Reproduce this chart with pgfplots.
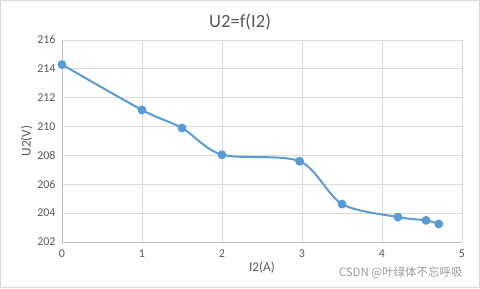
\documentclass[border=0pt]{standalone}
\usepackage{pgfplots}
\pgfplotsset{compat=1.18}
\usepackage{fontspec}
\setmainfont{Carlito}
\newfontfamily\cjk{Noto Sans CJK SC}
\definecolor{excelblue}{HTML}{5B9BD5}
\definecolor{txtgrey}{HTML}{595959}
\definecolor{gridgrey}{HTML}{D9D9D9}
\definecolor{axisgrey}{HTML}{BFBFBF}
\begin{document}
\begin{tikzpicture}[x=1bp,y=1bp]
\draw[draw=gridgrey,line width=0.75bp] (0.5,0.5) rectangle (479.5,287.5);
\useasboundingbox (0,0) rectangle (480,288);
\node[text=txtgrey,font=\fontsize{18.7}{22}\selectfont] at (240,266) {U2=f(I2)};
\node[text=black!40,font=\cjk\fontsize{11.5}{13}\selectfont,anchor=east] at (466,15) {CSDN @叶绿体不忘呼吸};
\begin{axis}[
  at={(62bp,46bp)}, anchor=south west,
  scale only axis, width=400bp, height=202bp,
  xmin=0, xmax=5, ymin=202, ymax=216,
  xtick={0,1,2,3,4,5}, ytick={202,204,...,216},
  axis x line*=bottom, axis y line*=left,
  grid=major,
  grid style={gridgrey, line width=0.75bp},
  axis line style={draw=axisgrey, line width=0.75bp, -},
  major tick length=0pt,
  tick label style={text=txtgrey, font=\fontsize{12}{14}\selectfont},
  /pgf/number format/assume math mode=true,
  xticklabel style={yshift=-4bp},
  yticklabel style={xshift=-3bp},
  xlabel={I2(A)}, ylabel={U2(V)},
  label style={text=txtgrey, font=\fontsize{13.3}{15}\selectfont},
  xlabel style={yshift=2bp},
  ylabel style={yshift=-2bp},
]
\addplot[color=excelblue, line width=2bp, smooth, mark=*, mark size=3.4bp, mark options={fill=excelblue, draw=excelblue}]
coordinates {
(0,214.3)
(1.0,211.15)
(1.5,209.9)
(2.0,208.05)
(2.97,207.6)
(3.5,204.63)
(4.2,203.73)
(4.55,203.5)
(4.71,203.25)
};
\end{axis}
\end{tikzpicture}
\end{document}
